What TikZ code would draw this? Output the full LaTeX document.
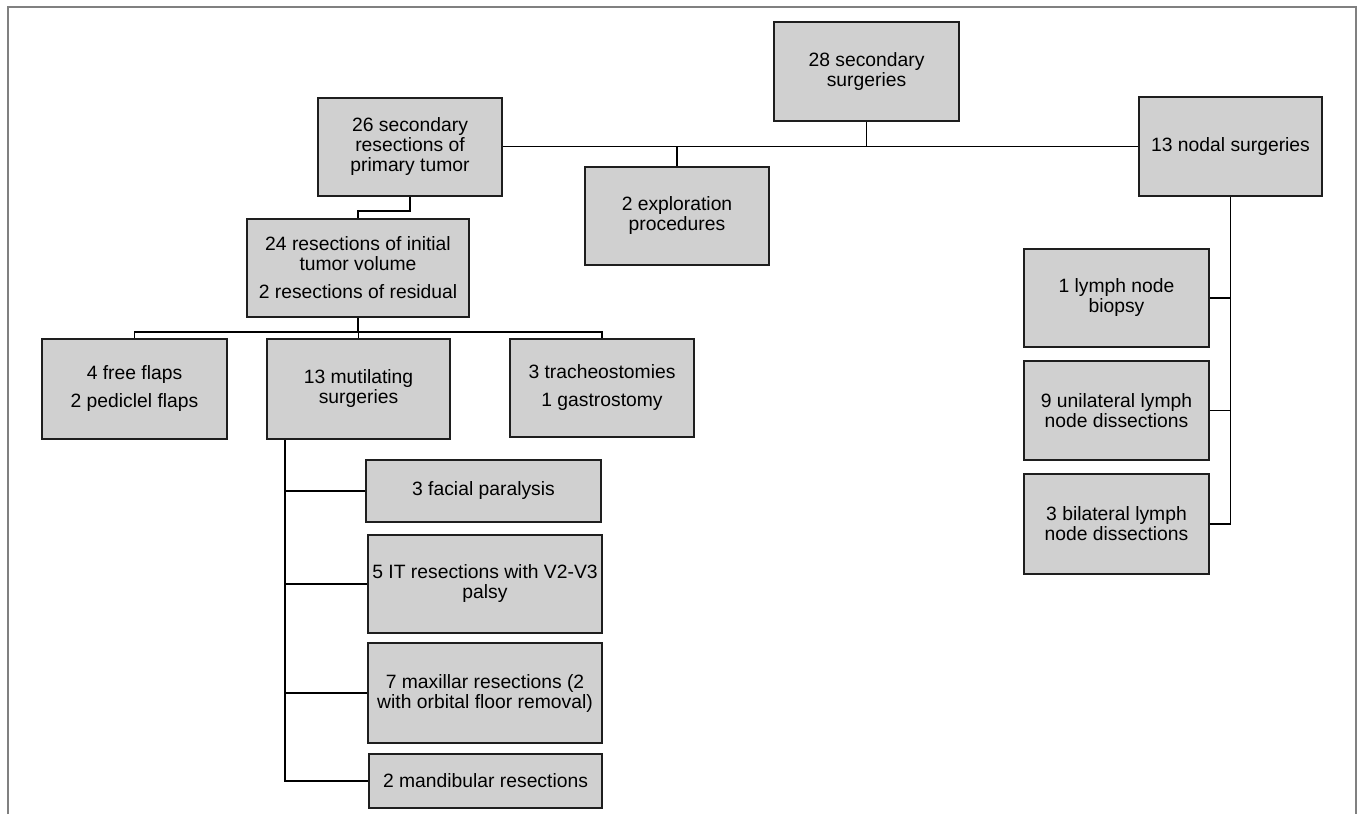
\documentclass[tikz,border=0pt]{standalone}
\usepackage{fontspec}
\setmainfont{Liberation Sans}
\definecolor{boxfill}{RGB}{208,208,208}
\definecolor{boxline}{RGB}{30,30,30}
\definecolor{framegray}{RGB}{128,128,128}
\begin{document}
\begin{tikzpicture}[x=1pt,y=-1pt,
  box/.style={draw=boxline, fill=boxfill, line width=2pt, rectangle, inner sep=0pt,
    align=center, font=\fontsize{19.3}{20}\selectfont},
  conn/.style={draw=black, line width=1.9pt}]
\useasboundingbox (0,0) rectangle (1357,814);
\draw[framegray, line width=2pt] (7.7,814) -- (7.7,7) -- (1355.7,7) -- (1355.7,814);

\node[box, minimum width=185pt, minimum height=99pt] (n28) at (866.5,71.5) {28 secondary\\surgeries};
\node[box, minimum width=184pt, minimum height=98pt] (n26) at (410,146.5) {26 secondary\\resections of\\primary tumor};
\node[box, minimum width=184pt, minimum height=98pt] (nexp) at (677,216) {2 exploration\\procedures};
\node[box, minimum width=183pt, minimum height=99pt] (nnod) at (1230.5,146.5) {13 nodal surgeries};
\node[box, minimum width=222pt, minimum height=98pt] (n24) at (358,268) {24 resections of initial\\tumor volume\\[8pt]2 resections of residual};
\node[box, minimum width=185pt, minimum height=100pt] (nfree) at (134.5,389) {4 free flaps\\[8pt]2 pediclel flaps};
\node[box, minimum width=183pt, minimum height=100pt] (nmut) at (358.5,389) {13 mutilating\\surgeries};
\node[box, minimum width=184pt, minimum height=98pt] (ntrach) at (602,388) {3 tracheostomies\\[8pt]1 gastrostomy};
\node[box, minimum width=235pt, minimum height=62pt] (nfac) at (483.5,491) {3 facial paralysis};
\node[box, minimum width=234pt, minimum height=98pt] (nit) at (485,584) {5 IT resections with V2-V3\\palsy};
\node[box, minimum width=234pt, minimum height=100pt] (nmax) at (485,693) {7 maxillar resections (2\\with orbital floor removal)};
\node[box, minimum width=233pt, minimum height=54pt] (nmand) at (485.5,781) {2 mandibular resections};
\node[box, minimum width=185pt, minimum height=98pt] (nlym) at (1116.5,298) {1 lymph node\\biopsy};
\node[box, minimum width=185pt, minimum height=99pt] (nuni) at (1116.5,410.5) {9 unilateral lymph\\node dissections};
\node[box, minimum width=185pt, minimum height=100pt] (nbil) at (1116.5,524) {3 bilateral lymph\\node dissections};

\coordinate (e1) at (0,211);
\coordinate (e2) at (0,332);
\coordinate (mx) at (285,0);

% top level
\draw[conn] (n26.east) -- (nnod.west);
\draw[conn] (n28.south) -- (n28.south |- n26.east);
\draw[conn] (nexp.north) -- (nexp.north |- n26.east);
% primary tumor branch
\draw[conn] (n26.south) -- (n26.south |- e1) -| (n24.north);
\draw[conn] (n24.south) -- (n24.south |- e2);
\draw[conn] (nfree.north) -- (nfree.north |- e2) -- (ntrach.north |- e2) -- (ntrach.north);
\draw[conn] (nmut.north) -- (nmut.north |- e2);
% mutilating branch
\draw[conn] (nmut.south -| mx) -- (nmand.west -| mx) -- (nmand.west);
\draw[conn] (nfac.west -| mx) -- (nfac.west);
\draw[conn] (nit.west -| mx) -- (nit.west);
\draw[conn] (nmax.west -| mx) -- (nmax.west);
% nodal branch
\draw[conn] (nnod.south) -- (nnod.south |- nbil.east) -- (nbil.east);
\draw[conn] (nlym.east) -- (nlym.east -| nnod.south);
\draw[conn] (nuni.east) -- (nuni.east -| nnod.south);
\end{tikzpicture}
\end{document}
